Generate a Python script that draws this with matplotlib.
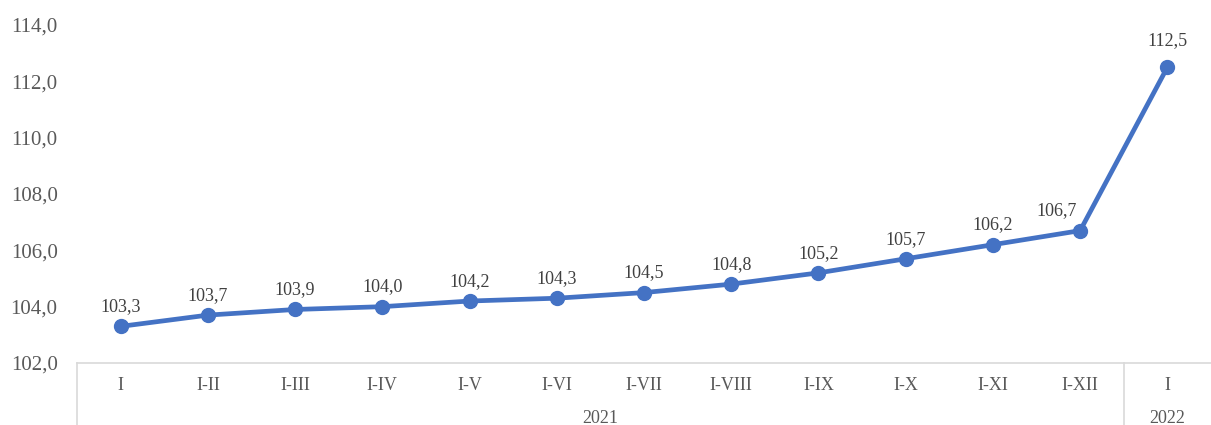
import matplotlib
matplotlib.use('Agg')
import matplotlib.pyplot as plt
from matplotlib.transforms import blended_transform_factory

# Data
periods = ['I', 'I-II', 'I-III', 'I-IV', 'I-V', 'I-VI', 'I-VII', 'I-VIII',
           'I-IX', 'I-X', 'I-XI', 'I-XII', 'I']
values = [103.3, 103.7, 103.9, 104.0, 104.2, 104.3, 104.5, 104.8,
          105.2, 105.7, 106.2, 106.7, 112.5]
years = ['2021', '2022']
year_spans = [(0, 11), (12, 12)]
y_ticks = [102, 104, 106, 108, 110, 112, 114]

plt.rcParams['font.family'] = ['Liberation Serif', 'DejaVu Serif']

line_color = '#4472C4'
tick_color = '#595959'
label_color = '#404040'
grid_color = '#D9D9D9'

fig = plt.figure(figsize=(12.11, 4.25), dpi=100)
ax = fig.add_axes([77 / 1211, 1 - 363 / 425, 1 - 77 / 1211, (363 - 25) / 425])

x = list(range(len(values)))
ax.plot(x, values, color=line_color, linewidth=3.4, marker='o', markersize=10,
        solid_capstyle='round', zorder=3)

# label nudges (points) where Excel moved a label off the line
nudge = {11: (-17, 0), 12: (0, 5)}
for xi, v in zip(x, values):
    dx, dy = nudge.get(xi, (0, 0))
    ax.annotate(f'{v:.1f}'.replace('.', ','), (xi, v), xytext=(dx, 8 + dy),
                textcoords='offset points', ha='center', va='bottom',
                fontsize=13, color=label_color)

ax.set_xlim(-0.5, len(values) - 0.5)
ax.set_ylim(102, 114)
ax.set_yticks(y_ticks)
ax.set_yticklabels([f'{t:.1f}'.replace('.', ',') for t in y_ticks])
ax.tick_params(axis='y', length=0, labelsize=15, labelcolor=tick_color, pad=14)
ax.set_xticks([])

for side in ['top', 'right', 'left']:
    ax.spines[side].set_visible(False)
ax.spines['bottom'].set_color(grid_color)
ax.spines['bottom'].set_linewidth(1.2)

# multi-level category axis
trans = blended_transform_factory(ax.transData, ax.transAxes)
for xi, p in enumerate(periods):
    ax.text(xi, -0.068, p, transform=trans, ha='center', va='center',
            fontsize=13, color=tick_color)
for yr, (a, b) in zip(years, year_spans):
    ax.text((a + b) / 2, -0.163, yr, transform=trans, ha='center', va='center',
            fontsize=13, color=tick_color)
for sep in [-0.5, 11.5]:
    ax.plot([sep, sep], [0, -0.2], transform=trans, color=grid_color,
            linewidth=1.2, clip_on=False)

fig.savefig('out.png', dpi=100)
